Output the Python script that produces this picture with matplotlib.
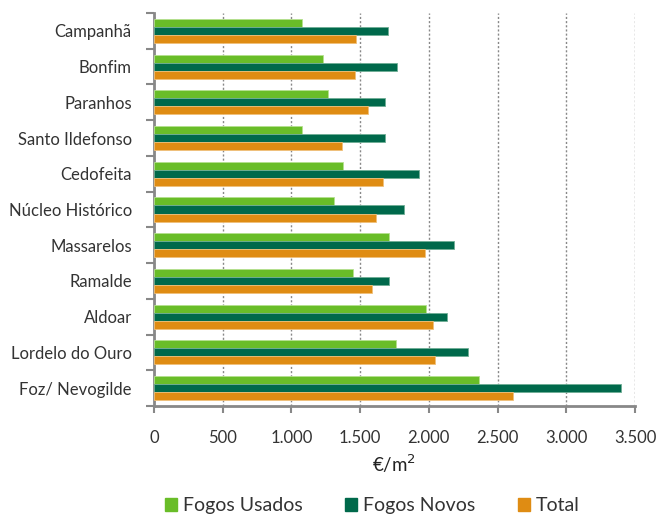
import matplotlib.pyplot as plt
import numpy as np
from matplotlib.ticker import FixedLocator
from matplotlib.patches import Patch

plt.rcParams['font.family'] = ['Lato', 'DejaVu Sans']

freguesias = ['Campanhã', 'Bonfim', 'Paranhos', 'Santo Ildefonso', 'Cedofeita',
              'Núcleo Histórico', 'Massarelos', 'Ramalde', 'Aldoar',
              'Lordelo do Ouro', 'Foz/ Nevogilde']
fogos_usados = [1080, 1230, 1265, 1080, 1378, 1312, 1710, 1448, 1982, 1759, 2367]
fogos_novos = [1700, 1766, 1681, 1681, 1926, 1817, 2184, 1708, 2133, 2284, 3397]
total = [1470, 1465, 1555, 1365, 1669, 1616, 1973, 1584, 2028, 2043, 2612]
xticks = [0, 500, 1000, 1500, 2000, 2500, 3000, 3500]
xtick_labels = ['0', '500', '1.000', '1.500', '2.000', '2.500', '3.000', '3.500']

c_usados = '#69BD28'
c_novos = '#00694B'
c_total = '#DF8C13'

fig = plt.figure(figsize=(6.59, 5.14), dpi=100)
ax = fig.add_axes([154 / 659, 1 - 406 / 514, (635 - 154) / 659, (406 - 13) / 514])

y = np.arange(len(freguesias))
h = 0.225
ax.barh(y - h, fogos_usados, height=h, color=c_usados, edgecolor='#b5e08f', linewidth=0.6, zorder=3)
ax.barh(y, fogos_novos, height=h, color=c_novos, edgecolor='#6fae95', linewidth=0.6, zorder=3)
ax.barh(y + h, total, height=h, color=c_total, edgecolor='#f0c07a', linewidth=0.6, zorder=3)

ax.set_xlim(0, 3500)
ax.set_ylim(len(freguesias) - 0.5, -0.5)
ax.set_xticks(xticks)
ax.set_xticklabels(xtick_labels)
ax.set_yticks(y)
ax.set_yticklabels(freguesias)
ax.yaxis.set_minor_locator(FixedLocator(np.arange(-0.5, len(freguesias), 1)))
ax.tick_params(axis='y', which='major', length=0, pad=16, labelsize=12, labelcolor='#333333')
ax.tick_params(axis='y', which='minor', length=6, width=1.5, color='#888888')
ax.tick_params(axis='x', length=5, width=1.5, color='#888888', labelsize=12,
               labelcolor='#333333', pad=12)

ax.grid(axis='x', color='#888888', linestyle=(0, (1.5, 1.5)), linewidth=1, zorder=0)
for s in ['top', 'right']:
    ax.spines[s].set_visible(False)
for s in ['left', 'bottom']:
    ax.spines[s].set_color('#888888')
    ax.spines[s].set_linewidth(2)

ax.set_xlabel('€/m$^2$', fontsize=13.5, color='#222222', labelpad=5)

handles = [Patch(color=c_usados), Patch(color=c_novos), Patch(color=c_total)]
fig.legend(handles, ['Fogos Usados', 'Fogos Novos', 'Total'], loc='lower center',
           bbox_to_anchor=(0.565, -0.035), ncol=3, frameon=False, fontsize=14,
           handlelength=0.6, handleheight=0.6, columnspacing=2.2, handletextpad=0.3,
           labelcolor='#333333')

fig.savefig('out.png', dpi=100)
